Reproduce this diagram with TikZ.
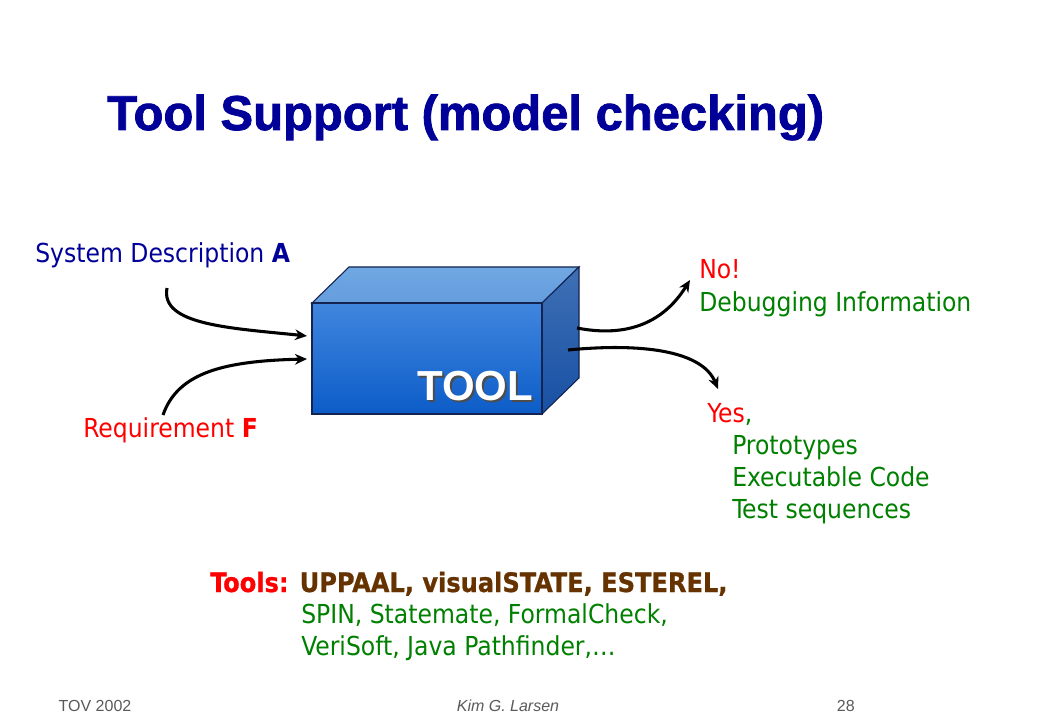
\documentclass[tikz,border=0pt]{standalone}
\usepackage{fontspec}
\setmainfont{DejaVu Sans Condensed}
\newfontfamily\headfont{Liberation Sans}
\newfontfamily\titlefont[FakeBold=1.6]{Liberation Sans Bold}
\newfontfamily\heavyfont[FakeBold=0.8]{DejaVu Sans Condensed Bold}
\usetikzlibrary{arrows.meta}
\definecolor{navy}{RGB}{0,0,153}
\definecolor{okgreen}{RGB}{0,128,0}
\definecolor{brownish}{RGB}{102,51,0}
\definecolor{footgray}{RGB}{90,90,90}
\definecolor{edge}{RGB}{20,35,80}
\definecolor{lidtop}{RGB}{112,168,226}
\definecolor{lidbot}{RGB}{100,156,222}
\definecolor{facetop}{RGB}{64,134,222}
\definecolor{facebot}{RGB}{12,92,200}
\definecolor{sidetop}{RGB}{62,112,180}
\definecolor{sidebot}{RGB}{24,80,164}

\begin{document}
\begin{tikzpicture}[x=0.75pt,y=-0.75pt]
\tikzstyle{txt}=[anchor=base west,inner sep=0pt,font=\fontsize{19.6}{23}\selectfont]
\tikzstyle{title}=[anchor=base west,inner sep=0pt,text=navy,font=\titlefont\fontsize{36.7}{42}\selectfont]
\tikzstyle{foot}=[anchor=base,inner sep=0pt,text=footgray,font=\headfont\fontsize{12}{14}\selectfont]
\tikzstyle{front}=[draw=edge,line width=0.8pt,top color=facetop,bottom color=facebot,minimum width=172.5pt,minimum height=83.25pt,inner sep=0pt]
\tikzstyle{flow}=[line width=2.3pt,-{Stealth[length=9pt,width=8pt]}]
\useasboundingbox [fill=white] (0,0) rectangle (1040,720);
\node [title] (head) at (107,130) {Tool Support (model checking)};
\node [txt,text=navy] (sysA) at (35,263) {System Description \textbf{A}};
\node [txt,text=red] (reqF) at (83,438) {Requirement \textbf{F}};
% the box
\shade [top color=lidtop,bottom color=lidbot,draw=edge,line width=0.8pt] (312,303) -- (349,267) -- (579,267) -- (542,303) -- cycle;
\shade [top color=sidetop,bottom color=sidebot,draw=edge,line width=0.8pt] (542,303) -- (579,267) -- (579,378) -- (542,414) -- cycle;
\node [front] (tool) at (427,358.5) {};
\node [txt,text=black!70,font=\headfont\bfseries\fontsize{31.5}{36}\selectfont] (toolshadow) at (419,403) {TOOL};
\node [txt,text=white,font=\headfont\bfseries\fontsize{31.5}{36}\selectfont] (toolname) at (417,401) {TOOL};
% outputs
\node [txt,text=red] (no) at (699,279) {No!};
\node [txt,text=okgreen] (debug) at (699,312) {Debugging Information};
\node [txt,text=red] (yes) at (707,423) {Yes\textcolor{okgreen}{,}};
\node [txt,text=okgreen] (proto) at (732,455) {Prototypes};
\node [txt,text=okgreen] (exec) at (732,487) {Executable Code};
\node [txt,text=okgreen] (tests) at (732,518) {Test sequences};
% arrows
\coordinate (a0) at (167,288);
\coordinate (a1) at (307,336);
\coordinate (f0) at (163,415);
\coordinate (f1) at (307,359);
\coordinate (n0) at (577,328);
\coordinate (n1) at (690,280);
\coordinate (y0) at (568,350);
\coordinate (y1) at (718,389);
\draw [flow] (a0) .. controls (160,325) and (230,328) .. (a1);
\draw [flow] (f0) .. controls (178,372) and (225,361) .. (f1);
\draw [flow] (n0) .. controls (628,338) and (664,322) .. (n1);
\draw [flow] (y0) .. controls (640,343) and (702,350) .. (y1);
% tools list
\node [txt,font=\heavyfont\fontsize{20.1}{23}\selectfont,text=red] (tools) at (210,592) {Tools: \textcolor{brownish}{UPPAAL, visualSTATE, ESTEREL,}};
\node [txt,text=okgreen] (more) at (301,623) {SPIN, Statemate, FormalCheck,};
\node [txt,text=okgreen] (more2) at (301,655) {VeriSoft, Java Pathfinder,\dots};
% footer
\node [foot] (left) at (95,711) {TOV 2002};
\node [foot,font=\headfont\itshape\fontsize{12}{14}\selectfont] (mid) at (508,711) {Kim G. Larsen};
\node [foot,anchor=base east] (page) at (855,711) {28};
\end{tikzpicture}
\end{document}
